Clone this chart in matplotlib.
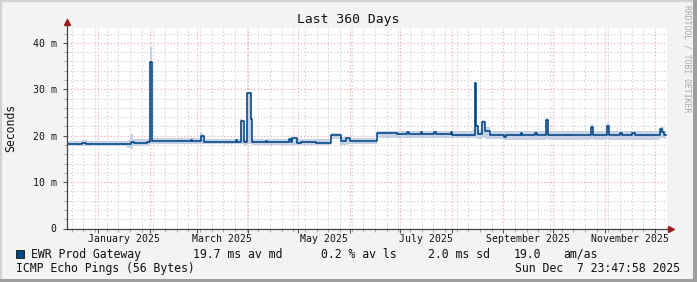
import numpy as np
import pandas as pd
import matplotlib
matplotlib.use("Agg")
import matplotlib.pyplot as plt
import matplotlib.dates as mdates
from matplotlib.patches import Rectangle

plt.rcParams['font.family'] = ['DejaVu Sans Mono']

# --- data (ms) ---
t_start = "2024-12-12 23:47:58"
t_end = "2025-12-07 23:47:58"

median_dates = [
    "2024-12-12 23:48", "2024-12-22 14:00", "2024-12-24 10:00", "2025-01-20 10:00",
    "2025-01-22 05:00", "2025-01-30 14:00", "2025-02-01 02:00", "2025-02-02 07:00",
    "2025-02-25 10:00", "2025-02-26 14:00", "2025-03-03 10:00", "2025-03-05 05:00",
    "2025-03-24 10:00", "2025-03-25 14:00", "2025-03-27 10:00", "2025-03-29 05:00",
    "2025-03-31 07:00", "2025-04-02 10:00", "2025-04-03 14:00", "2025-04-11 10:00",
    "2025-04-12 14:00", "2025-04-25 05:00", "2025-04-26 10:00", "2025-04-27 14:00",
    "2025-04-30 14:00", "2025-05-02 10:00", "2025-05-11 10:00", "2025-05-20 10:00",
    "2025-05-26 10:00", "2025-05-29 10:00", "2025-05-31 19:00", "2025-06-17 14:00",
    "2025-06-29 14:00", "2025-07-05 10:00", "2025-07-06 12:00", "2025-07-13 10:00",
    "2025-07-14 12:00", "2025-07-21 05:00", "2025-07-22 10:00", "2025-07-31 10:00",
    "2025-08-01 12:00", "2025-08-14 19:00", "2025-08-15 14:00", "2025-08-16 19:00",
    "2025-08-19 14:00", "2025-08-20 19:00", "2025-08-23 19:00", "2025-09-01 05:00",
    "2025-09-02 10:00", "2025-09-11 10:00", "2025-09-12 14:00", "2025-09-19 19:00",
    "2025-09-21 00:00", "2025-09-26 10:00", "2025-09-27 22:00", "2025-10-04 19:00",
    "2025-10-23 10:00", "2025-10-24 22:00", "2025-11-02 10:00", "2025-11-03 14:00",
    "2025-11-10 00:00", "2025-11-11 10:00", "2025-11-17 12:00", "2025-11-19 00:00",
    "2025-12-03 19:00", "2025-12-05 00:00", "2025-12-06 12:00", "2025-12-07 23:47",
]
median_ms = [
    18.3, 18.5, 18.3, 18.6,
    18.5, 18.6, 35.8, 18.8,
    19.0, 18.8, 19.9, 18.7,
    19.1, 18.7, 23.2, 18.7,
    29.1, 23.6, 18.7, 18.9,
    18.7, 19.3, 18.7, 19.4,
    18.5, 18.6, 18.5, 20.2,
    18.8, 19.4, 18.9, 20.5,
    20.4, 20.7, 20.4, 20.7,
    20.4, 20.7, 20.4, 20.7,
    20.2, 31.3, 22.1, 20.4,
    23.0, 20.9, 20.2, 19.8,
    20.2, 20.5, 20.2, 20.6,
    20.2, 23.4, 20.1, 20.2,
    21.9, 20.2, 22.1, 20.2,
    20.5, 20.2, 20.5, 20.2,
    21.4, 20.7, 20.2, 20.2,
]

smoke_dates = [
    "2024-12-12 23:48", "2024-12-22 00:00", "2024-12-25 00:00", "2025-01-18 00:00",
    "2025-01-20 00:00", "2025-01-22 00:00", "2025-01-31 00:00", "2025-02-01 00:00",
    "2025-02-02 08:00", "2025-02-25 00:00", "2025-03-03 00:00", "2025-03-05 00:00",
    "2025-03-27 00:00", "2025-03-29 00:00", "2025-03-31 00:00", "2025-04-02 10:00",
    "2025-04-03 14:00", "2025-05-20 10:00", "2025-05-26 00:00", "2025-05-31 00:00",
    "2025-06-16 00:00", "2025-06-17 12:00", "2025-06-29 00:00", "2025-08-14 00:00",
    "2025-08-14 18:00", "2025-08-15 14:00", "2025-08-16 20:00", "2025-08-19 14:00",
    "2025-08-20 20:00", "2025-08-24 00:00", "2025-09-01 00:00", "2025-09-05 00:00",
    "2025-09-26 10:00", "2025-09-28 00:00", "2025-10-23 10:00", "2025-10-25 00:00",
    "2025-11-02 10:00", "2025-11-03 14:00", "2025-12-03 20:00", "2025-12-06 12:00",
    "2025-12-07 23:47",
]
smoke_lo = [
    17.7, 17.8, 17.7, 17.4,
    17.2, 17.7, 18.0, 18.2,
    18.1, 18.2, 18.2, 18.1,
    18.2, 18.0, 18.2, 18.1,
    17.9, 19.2, 18.0, 18.1,
    18.1, 19.5, 19.4, 19.4,
    19.5, 19.5, 19.2, 19.4,
    19.2, 19.2, 19.0, 19.1,
    19.2, 19.1, 19.3, 19.1,
    19.3, 19.1, 19.4, 19.3,
    19.3,
]
smoke_hi = [
    18.9, 19.1, 18.9, 19.1,
    20.3, 19.2, 19.4, 39.0,
    19.5, 19.5, 20.6, 19.3,
    23.6, 19.2, 29.4, 23.9,
    19.2, 20.6, 19.8, 19.4,
    19.5, 20.9, 20.9, 21.2,
    31.6, 22.4, 21.3, 23.4,
    21.8, 21.0, 20.9, 21.1,
    23.8, 21.0, 22.5, 21.0,
    22.7, 21.0, 21.8, 20.9,
    20.9,
]

y_ticks = [0, 10, 20, 30, 40]
y_ticklabels = ["0", "10 m", "20 m", "30 m", "40 m"]

W, H = 697, 282
fig = plt.figure(figsize=(W / 100, H / 100), dpi=100)
fig.patch.set_facecolor("#f3f3f3")

def fx(x):
    return x / W

def fy(y):
    return 1 - y / H

# frame
fig.add_artist(Rectangle((0, 0), 1, 1, transform=fig.transFigure, fill=False,
                         edgecolor="#d2d2d2", lw=3))
fig.add_artist(Rectangle((fx(0), 0), 1, fy(279), transform=fig.transFigure,
                         facecolor="#9e9e9e", edgecolor="none"))
fig.add_artist(Rectangle((fx(693), 0), fx(5), 1, transform=fig.transFigure,
                         facecolor="#9e9e9e", edgecolor="none"))

left, right, top, bottom = 66.5, 666.5, 27.5, 228.5
ax = fig.add_axes([fx(left), fy(bottom), fx(right - left), (bottom - top) / H])
ax.set_facecolor("white")

md = pd.to_datetime(median_dates)
sd = pd.to_datetime(smoke_dates)

ax.fill_between(sd, smoke_lo, smoke_hi, step="post", color="#c6d2e3", lw=0, zorder=2)
ax.step(md, median_ms, where="post", color="#004586", lw=1.15, zorder=3)

ax.set_xlim(pd.Timestamp(t_start), pd.Timestamp(t_end))
ax.set_ylim(0, 43.3)

# grid
ax.xaxis.set_major_locator(mdates.MonthLocator())
ax.xaxis.set_minor_locator(mdates.WeekdayLocator(byweekday=mdates.MO))
ax.yaxis.set_major_locator(plt.FixedLocator(y_ticks))
ax.yaxis.set_minor_locator(plt.MultipleLocator(2))
ax.grid(which="minor", color="#c8c8c8", linestyle=(0, (1, 2)), lw=0.8, zorder=1)
ax.grid(which="major", color="#eca3a3", linestyle=(0, (1, 2)), lw=0.8, zorder=1)
ax.set_axisbelow(True)

ax.set_yticklabels(y_ticklabels)
ax.set_xticklabels([])
ax.tick_params(axis="both", which="major", length=3, width=0.8, color="#555555",
               labelsize=7.1, pad=4, labelcolor="#111111")
ax.tick_params(axis="both", which="minor", length=2, width=0.6, color="#999999")

# month labels, every second month, centred in the month
months = pd.date_range("2025-01-01", "2025-11-01", freq="2MS")
for m in months:
    nxt = m + pd.offsets.MonthBegin(1)
    mid = m + (nxt - m) / 2
    ax.text(mid, -0.05, m.strftime("%B %Y"), transform=ax.get_xaxis_transform(),
            ha="center", va="center", fontsize=7.1, color="#111111")

for s in ax.spines.values():
    s.set_visible(False)
ax.plot([0, 0], [0, 1.025], transform=ax.transAxes, color="#444444", lw=0.9,
        clip_on=False, zorder=5)
ax.plot([0, 1.008], [0, 0], transform=ax.transAxes, color="#444444", lw=0.9,
        clip_on=False, zorder=5)
ax.plot([0], [1.025], marker="^", ms=4.5, color="#9b1c1c", transform=ax.transAxes,
        clip_on=False, zorder=6)
ax.plot([1.008], [0], marker=">", ms=4.5, color="#9b1c1c", transform=ax.transAxes,
        clip_on=False, zorder=6)

# texts
fig.text(fx(348), fy(19.3), "Last 360 Days", ha="center", va="center", fontsize=9.4,
         color="#111111")
fig.text(fx(10.5), fy(128), "Seconds", rotation=90, ha="center", va="center",
         fontsize=8.3, color="#111111")
fig.text(fx(687.5), fy(59), "RRDTOOL / TOBI OETIKER", rotation=270, ha="center",
         va="center", fontsize=5.9, color="#a8a8a8")

fig.add_artist(Rectangle((fx(15.5), fy(258)), fx(8), 8 / H, transform=fig.transFigure,
                         facecolor="#004586", edgecolor="#111111", lw=0.6))
row1 = fy(254.3)
fig.text(fx(30.5), row1, "EWR Prod Gateway", ha="left", va="center", fontsize=8.3,
         color="#111111")
fig.text(fx(193.3), row1, "19.7 ms av md", ha="left", va="center", fontsize=8.3,
         color="#111111")
fig.text(fx(321), row1, "0.2 % av ls", ha="left", va="center", fontsize=8.3,
         color="#111111")
fig.text(fx(428.3), row1, "2.0 ms sd", ha="left", va="center", fontsize=8.3,
         color="#111111")
fig.text(fx(513.3), row1, "19.0", ha="left", va="center", fontsize=8.3, color="#111111")
fig.text(fx(563.3), row1, "am/as", ha="left", va="center", fontsize=8.3, color="#111111")
row2 = fy(268.3)
fig.text(fx(16.5), row2, "ICMP Echo Pings (56 Bytes)", ha="left", va="center",
         fontsize=8.3, color="#111111")
fig.text(fx(680), row2, "Sun Dec  7 23:47:58 2025", ha="right", va="center",
         fontsize=8.3, color="#111111")

fig.savefig("out.png", dpi=100, facecolor=fig.get_facecolor())
